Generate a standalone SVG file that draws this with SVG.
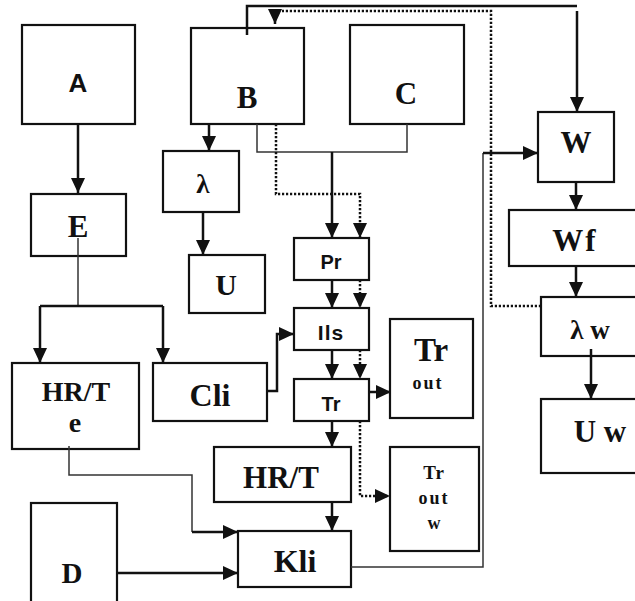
<svg xmlns="http://www.w3.org/2000/svg" width="635" height="601" viewBox="0 0 635 601">
<style>
.box{fill:#fff;stroke:#111;stroke-width:2.2}
.s{font-family:"Liberation Serif","Times New Roman",serif;font-weight:bold;fill:#111;text-anchor:middle}
.a{font-family:"Liberation Sans",Arial,sans-serif;font-weight:bold;fill:#111;text-anchor:middle}
.c{fill:none;stroke:#111;stroke-width:2.5}
.t{fill:none;stroke:#333;stroke-width:1.5}
.d{fill:none;stroke:#111;stroke-width:2.5;stroke-dasharray:2.2 1.8}
</style>
<defs>
<marker id="ah" viewBox="0 0 15 14" refX="15" refY="7" markerWidth="15" markerHeight="14" markerUnits="userSpaceOnUse" orient="auto">
<path d="M0,0 L15,7 L0,14 z" fill="#111"/>
</marker>
</defs>
<rect width="635" height="601" fill="#fff"/>
<g id="A"><rect class="box" x="22" y="25" width="113" height="99"/><text class="a" x="78" y="92" font-size="26">A</text></g>
<g id="B"><rect class="box" x="191" y="28" width="113" height="96"/><text class="s" x="247" y="108" font-size="31">B</text></g>
<g id="C"><rect class="box" x="350" y="25" width="114" height="99"/><text class="s" x="406" y="104" font-size="31">C</text></g>
<g id="E"><rect class="box" x="31" y="194" width="95" height="62"/><text class="s" x="78" y="237" font-size="31">E</text></g>
<g id="lambda"><rect class="box" x="163" y="151" width="76" height="61"/><text class="s" x="203" y="193" font-size="27">λ</text></g>
<g id="U"><rect class="box" x="189" y="255" width="76" height="58"/><text class="s" x="226" y="295" font-size="30">U</text></g>
<g id="HRTe"><rect class="box" x="12" y="363" width="127" height="86"/><text class="s" x="76" y="401" font-size="28">HR/T</text><text class="s" x="75" y="432" font-size="28">e</text></g>
<g id="Cli"><rect class="box" x="153" y="363" width="114" height="58"/><text class="s" x="210" y="406" font-size="32">Cli</text></g>
<g id="Pr"><rect class="box" x="294" y="238" width="75" height="42"/><text class="a" x="331" y="269" font-size="20">Pr</text></g>
<g id="Ils"><rect class="box" x="294" y="308" width="75" height="42"/><text class="a" x="331" y="340" font-size="21" letter-spacing="1">Ils</text></g>
<g id="Tr"><rect class="box" x="294" y="379" width="75" height="42"/><text class="a" x="331" y="411" font-size="20">Tr</text></g>
<g id="Trout"><rect class="box" x="390" y="319" width="83" height="99"/><text class="s" x="431" y="361" font-size="33">Tr</text><text class="s" x="428" y="389" font-size="18" letter-spacing="2">out</text></g>
<g id="HRT"><rect class="box" x="214" y="447" width="137" height="55"/><text class="s" x="281" y="488" font-size="31">HR/T</text></g>
<g id="Troutw"><rect class="box" x="390" y="447" width="89" height="104"/><text class="s" x="434" y="479" font-size="19" letter-spacing="1">Tr</text><text class="s" x="434" y="504" font-size="18" letter-spacing="2">out</text><text class="s" x="434" y="529" font-size="18">w</text></g>
<g id="Kli"><rect class="box" x="238" y="531" width="113" height="56"/><text class="s" x="295" y="572" font-size="32">Kli</text></g>
<g id="D"><rect class="box" x="31" y="503" width="86" height="100"/><text class="s" x="72" y="583" font-size="29">D</text></g>
<g id="W"><rect class="box" x="538" y="112" width="76" height="70"/><text class="s" x="576" y="153" font-size="31">W</text></g>
<g id="Wf"><rect class="box" x="509" y="210" width="135" height="56"/><text class="s" x="575" y="251" font-size="31" letter-spacing="2">Wf</text></g>
<g id="lambdaw"><rect class="box" x="541" y="297" width="103" height="59"/><text class="s" x="590" y="339" font-size="27">λ w</text></g>
<g id="Uw"><rect class="box" x="541" y="399" width="103" height="74"/><text class="s" x="600" y="442" font-size="31">U w</text></g>
<g id="connectors">
<path class="c" d="M78,124 V193" marker-end="url(#ah)"/>
<path class="t" d="M78,238 V306"/>
<path class="c" d="M40,306 H163"/>
<path class="c" d="M40,306 V363" marker-end="url(#ah)"/>
<path class="c" d="M163,306 V363" marker-end="url(#ah)"/>
<path class="c" d="M209,124 V151" marker-end="url(#ah)"/>
<path class="c" d="M203,212 V255" marker-end="url(#ah)"/>
<path class="t" d="M257,124 V152 H407 V124"/>
<path class="c" d="M332,152 V238" marker-end="url(#ah)"/>
<path class="d" d="M276,124 V194 H360 V238" marker-end="url(#ah)"/>
<path class="c" d="M332,280 V308" marker-end="url(#ah)"/>
<path class="d" d="M360,280 V308" marker-end="url(#ah)"/>
<path class="c" d="M332,350 V379" marker-end="url(#ah)"/>
<path class="d" d="M360,350 V379" marker-end="url(#ah)"/>
<path class="c" d="M267,391 H277 V334 H294" marker-end="url(#ah)"/>
<path class="c" d="M369,392 H391" marker-end="url(#ah)"/>
<path class="c" d="M332,421 V447" marker-end="url(#ah)"/>
<path class="d" d="M360,421 V496 H390" marker-end="url(#ah)"/>
<path class="c" d="M332,502 V531" marker-end="url(#ah)"/>
<path class="t" d="M69,446 V475 H192 V532"/>
<path class="c" d="M192,532 H238" marker-end="url(#ah)"/>
<path class="c" d="M117,573 H238" marker-end="url(#ah)"/>
<path class="t" d="M351,567 H483 V153"/>
<path class="c" d="M483,153 H538" marker-end="url(#ah)"/>
<path class="c" d="M247,35 V6 H577"/>
<path class="c" d="M577,11 V112" marker-end="url(#ah)"/>
<path class="d" d="M541,306 H491 V11 H282"/>
<path class="c" d="M275,9 V24" marker-end="url(#ah)"/>
<path class="c" d="M576,182 V210" marker-end="url(#ah)"/>
<path class="c" d="M576,266 V297" marker-end="url(#ah)"/>
<path class="c" d="M591,349 V399" marker-end="url(#ah)"/>
</g>
</svg>
